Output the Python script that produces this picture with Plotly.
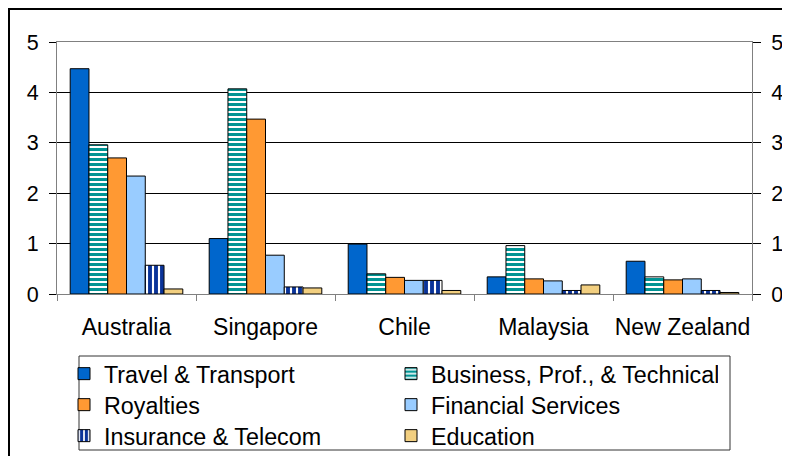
import plotly.graph_objects as go

countries = ["Australia", "Singapore", "Chile", "Malaysia", "New Zealand"]
travel = [4.47, 1.10, 0.99, 0.34, 0.65]
business = [2.96, 4.07, 0.40, 0.96, 0.34]
royalties = [2.70, 3.47, 0.33, 0.30, 0.28]
financial = [2.34, 0.77, 0.27, 0.26, 0.30]
insurance = [0.57, 0.14, 0.27, 0.07, 0.07]
education = [0.10, 0.12, 0.07, 0.18, 0.03]
y_ticks = [0, 1, 2, 3, 4, 5]

# page body has an 8px margin: figure origin sits at screen (8, 8)
OFF = 8
W, H = 790 - OFF, 456 - OFF
# plot area in screen pixels: x 57..752, y 42..294
SL, SR, ST, SB = 57, 752, 42, 294
L, T = SL - OFF, ST - OFF
R, B = W - (SR - OFF), H - (SB - OFF)
PW, PH = SR - SL, SB - ST


def px_x(p):
    return (p - SL) / PW


def px_y(p):
    return (SB - p) / PH


FONT = "Liberation Sans, Arial, sans-serif"

series = [
    ("Travel & Transport", travel, dict(color="#0066CC"), "legend"),
    ("Business, Prof., & Technical", business,
     dict(color="white", pattern=dict(shape="-", fgcolor="#009494", bgcolor="white",
                                      size=5, solidity=0.6, fgopacity=1)), "legend"),
    ("Royalties", royalties, dict(color="#FF9933"), "legend2"),
    ("Financial Services", financial, dict(color="#99CCFF"), "legend2"),
    ("Insurance & Telecom", insurance,
     dict(color="white", pattern=dict(shape="|", fgcolor="#0A3399", bgcolor="white",
                                      size=6, solidity=0.65, fgopacity=1)), "legend3"),
    ("Education", education, dict(color="#F2CF80"), "legend3"),
]

fig = go.Figure()
for name, vals, mk, lg in series:
    mk = dict(mk)
    mk["line"] = dict(color="black", width=1)
    fig.add_trace(go.Bar(x=countries, y=vals, name=name, marker=mk, legend=lg))

fig.add_trace(go.Scatter(x=[], y=[], yaxis="y2", showlegend=False, hoverinfo="skip"))

leg_common = dict(orientation="h", xanchor="left", yanchor="middle",
                  bgcolor="rgba(0,0,0,0)", borderwidth=0,
                  entrywidth=282, entrywidthmode="pixels",
                  font=dict(family=FONT, size=23.3, color="black"),
                  traceorder="normal")
rows_y = [374, 405, 436]
legx = px_x(64)

fig.update_layout(
    width=W, height=H,
    margin=dict(l=L, r=R, t=T, b=B, autoexpand=False),
    paper_bgcolor="white", plot_bgcolor="white",
    barmode="group", bargap=0.19, bargroupgap=0,
    font=dict(family=FONT, size=21, color="black"),
    showlegend=True,
    legend=dict(leg_common, x=legx, y=px_y(rows_y[0])),
    legend2=dict(leg_common, x=legx, y=px_y(rows_y[1])),
    legend3=dict(leg_common, x=legx, y=px_y(rows_y[2])),
    xaxis=dict(type="category", tickson="boundaries", ticks="outside", ticklen=6,
               tickcolor="#808080", showline=True, linecolor="#808080", linewidth=1,
               mirror=True, showgrid=False, ticklabelstandoff=12, tickangle=0,
               automargin=False,
               tickfont=dict(family=FONT, size=23, color="black")),
    yaxis=dict(range=[0, 5], tickvals=y_ticks, ticks="outside", ticklen=7,
               tickcolor="black", showline=True, linecolor="#808080", linewidth=1,
               showgrid=True, gridcolor="black", gridwidth=1, zeroline=False,
               ticklabelstandoff=6, automargin=False,
               tickfont=dict(family=FONT, size=21.5, color="black")),
    yaxis2=dict(range=[0, 5], tickvals=y_ticks, overlaying="y", side="right",
                ticks="outside", ticklen=8, tickcolor="black", showline=True,
                linecolor="#808080", linewidth=1, showgrid=False, zeroline=False,
                ticklabelstandoff=6, automargin=False,
                tickfont=dict(family=FONT, size=21.5, color="black")),
    shapes=[
        dict(type="rect", xref="paper", yref="paper",
             x0=px_x(9), x1=px_x(830), y0=px_y(500), y1=px_y(9),
             line=dict(color="black", width=2), fillcolor="rgba(0,0,0,0)", layer="above"),
        dict(type="rect", xref="paper", yref="paper",
             x0=px_x(79), x1=px_x(730), y0=px_y(450), y1=px_y(356),
             line=dict(color="#333333", width=1), fillcolor="rgba(0,0,0,0)", layer="above"),
    ],
)

fig.write_html("out.html")
